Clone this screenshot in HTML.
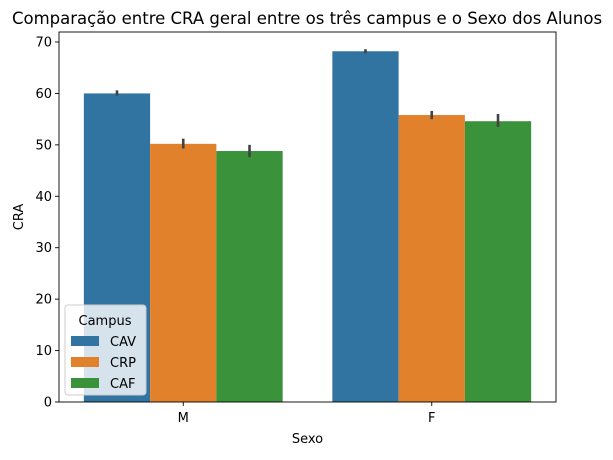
<!DOCTYPE html>
<html><head><meta charset="utf-8"><style>
body{margin:0;background:#fff;}
svg text{font-family:"DejaVu Sans","Liberation Sans",sans-serif;fill:#000;}
</style></head><body>
<svg id="chart" width="613" height="455" xmlns="http://www.w3.org/2000/svg">
<text x="307" y="24" font-size="16.5" text-anchor="middle">Comparação entre CRA geral entre os três campus e o Sexo dos Alunos</text>
<g id="bars"></g>
<g id="axes"></g>
</svg>
<script>
const categories=["M","F"];
const series=["CAV","CRP","CAF"];
const colors=["#3274a1","#e1812c","#3a923a"];
const values=[[60.0,50.2,48.8],[68.2,55.8,54.6]];
const errLow=[[59.6,49.3,47.6],[67.8,55.0,53.5]];
const errHigh=[[60.6,51.2,50.0],[68.6,56.6,56.0]];
const yTicks=[0,10,20,30,40,50,60,70];
const NS="http://www.w3.org/2000/svg";
const L=59,R=556,T=32,B=402;
const y=v=>B-v*(B-42)/70;
const catW=(R-L)/2;
const cx=i=>L+catW*(i+0.5);
const barW=catW*0.8/3;
function mk(tag,attrs,parent){const e=document.createElementNS(NS,tag);for(const k in attrs)e.setAttribute(k,attrs[k]);parent.appendChild(e);return e;}
const bars=document.getElementById('bars'),axes=document.getElementById('axes');
categories.forEach((c,i)=>{series.forEach((s,j)=>{
 const x0=cx(i)-catW*0.4+j*barW;
 const r=mk('rect',{x:x0,y:y(values[i][j]),width:barW,height:B-y(values[i][j]),fill:colors[j]},bars);
 
 
 const l=mk('line',{x1:x0+barW/2,x2:x0+barW/2,y1:y(errLow[i][j]),y2:y(errHigh[i][j]),stroke:'#424242','stroke-width':2.6},bars);
 
 
});});
const fr=mk('rect',{x:L,y:T,width:R-L,height:B-T,fill:'none',stroke:'#000','stroke-width':0.9},axes);


yTicks.forEach(v=>{
 const t=mk('line',{x1:L-4,x2:L,y1:y(v),y2:y(v),stroke:'#000','stroke-width':0.9},axes);
 
 
 const tx=mk('text',{x:L-7,y:y(v)+4.5,'font-size':13,'text-anchor':'end'},axes);tx.textContent=v;
 
 
});
categories.forEach((c,i)=>{
 const t=mk('line',{x1:cx(i),x2:cx(i),y1:B,y2:B+4,stroke:'#000','stroke-width':0.9},axes);
 
 
 const tx=mk('text',{x:cx(i),y:B+20,'font-size':13,'text-anchor':'middle'},axes);tx.textContent=c;
 
 
});
const xt=mk('text',{x:(L+R)/2,y:443,'font-size':13,'text-anchor':'middle'},axes);xt.textContent='Sexo';


const yt=mk('text',{x:23,y:(T+B)/2,'font-size':13,'text-anchor':'middle',transform:`rotate(-90 23 ${(T+B)/2})`},axes);yt.textContent='CRA';


const lg=mk('g',{},axes);


mk('rect',{x:65,y:305,width:81,height:90,rx:3,fill:'#fff','fill-opacity':0.8,stroke:'#ccc'},lg);
const lt=mk('text',{x:105,y:325,'font-size':13,'text-anchor':'middle'},lg);lt.textContent='Campus';
series.forEach((s,j)=>{
 const e=mk('g',{},lg);
 
 
 mk('rect',{x:71,y:336+j*21,width:28,height:10,fill:colors[j]},e);
 const t=mk('text',{x:110,y:346+j*21,'font-size':13},e);t.textContent=s;
});
</script>
</body></html>
